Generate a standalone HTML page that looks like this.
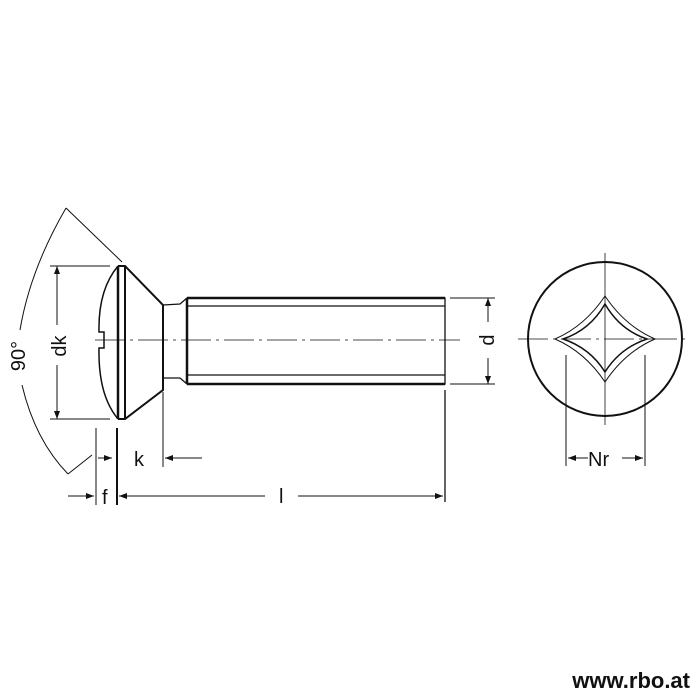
<!DOCTYPE html>
<html><head><style>body{margin:0;background:#fff}svg{display:block}</style></head><body>
<svg width="700" height="700" viewBox="0 0 700 700" xmlns="http://www.w3.org/2000/svg" font-family="Liberation Sans, sans-serif">
<g fill="none" stroke="#111" stroke-width="1.3">
<!-- head -->
<path d="M118,266 L125,266 L163,305 L163,390 L125,419 L118,419" stroke-width="2"/>
<line x1="118" y1="266" x2="118" y2="419" stroke-width="2.5"/>
<line x1="125" y1="266" x2="125" y2="419" stroke-width="2"/>
<path d="M118,266 Q98,290 99,332 L104,332 L104,348 L99,348 Q98,395 118,419" stroke-width="1.5"/>
<!-- neck and shank -->
<path d="M163,305 L180,304 L187,298 L445,298 L445,384 L187,384 L180,378 L163,378"/>
<line x1="187" y1="298" x2="187" y2="384" stroke-width="2.5"/>
<line x1="187" y1="306" x2="445" y2="306"/>
<line x1="187" y1="375" x2="445" y2="375"/>
<line x1="187" y1="298" x2="445" y2="298" stroke-width="2.5"/>
<line x1="187" y1="384" x2="445" y2="384" stroke-width="2.5"/>
<!-- centerline -->
<line x1="95" y1="340" x2="460" y2="340" stroke-width="0.8" stroke-dasharray="30,5,3,5"/>
<!-- dk -->
<line x1="50" y1="266" x2="110" y2="266" stroke-width="1"/>
<line x1="50" y1="419" x2="110" y2="419" stroke-width="1"/>
<line x1="57" y1="266" x2="57" y2="325" stroke-width="1"/>
<line x1="57" y1="365" x2="57" y2="419" stroke-width="1"/>
<!-- 90 arc -->
<path d="M66,208 Q30,270 20,330" stroke-width="1"/>
<path d="M22,385 Q35,440 68,474" stroke-width="1"/>
<line x1="66" y1="208" x2="122" y2="262" stroke-width="1"/>
<line x1="68" y1="474" x2="92" y2="455" stroke-width="1"/>
<!-- f, k -->
<line x1="96" y1="428" x2="96" y2="505" stroke-width="1"/>
<line x1="117" y1="428" x2="117" y2="505" stroke-width="2"/>
<line x1="163" y1="392" x2="163" y2="467" stroke-width="1"/>
<line x1="98" y1="458" x2="112" y2="458" stroke-width="1"/>
<line x1="165" y1="458" x2="202" y2="458" stroke-width="1"/>
<line x1="68" y1="496" x2="94" y2="496" stroke-width="1"/>
<line x1="119" y1="496" x2="265" y2="496" stroke-width="1"/>
<line x1="298" y1="496" x2="443" y2="496" stroke-width="1"/>
<line x1="445" y1="390" x2="445" y2="502" stroke-width="1.3"/>
<!-- d -->
<line x1="450" y1="298" x2="495" y2="298" stroke-width="1"/>
<line x1="450" y1="384" x2="495" y2="384" stroke-width="1"/>
<line x1="488" y1="298" x2="488" y2="322" stroke-width="1"/>
<line x1="488" y1="358" x2="488" y2="384" stroke-width="1"/>
<!-- circle view -->
<circle cx="605" cy="339" r="77" stroke-width="2"/>
<line x1="605" y1="253" x2="605" y2="425" stroke-width="0.8"/>
<line x1="518" y1="339" x2="690" y2="339" stroke-width="0.8" stroke-dasharray="30,5,3,5"/>
<path d="M605,304 Q590,330 563,339 Q590,348 605,372 Q620,348 647,339 Q620,330 605,304Z" stroke-width="1.5"/>
<path d="M605,296 Q585,326 555,339 Q585,352 605,382 Q625,352 655,339 Q625,326 605,296Z" stroke-width="1"/>
<line x1="566" y1="355" x2="566" y2="466" stroke-width="1"/>
<line x1="645" y1="355" x2="645" y2="466" stroke-width="1"/>
<line x1="568" y1="458" x2="588" y2="458" stroke-width="1"/>
<line x1="622" y1="458" x2="643" y2="458" stroke-width="1"/>
</g>
<g fill="#111">
<polygon points="112,458 104,455 104,461"/><polygon points="165,458 173,455 173,461"/>
<polygon points="94,496 86,493 86,499"/><polygon points="119,496 127,493 127,499"/>
<polygon points="443,496 435,493 435,499"/>
<polygon points="57,266 54,274 60,274"/><polygon points="57,419 54,411 60,411"/>
<polygon points="488,298 485,306 491,306"/><polygon points="488,384 485,376 491,376"/>
<polygon points="568,458 576,455 576,461"/><polygon points="643,458 635,455 635,461"/>
</g>
<g font-size="20" fill="#111">
<text x="134" y="466">k</text>
<text x="102" y="504">f</text>
<text x="279" y="503">l</text>
<text x="588" y="466">Nr</text>
<text transform="translate(66,346) rotate(-90)" text-anchor="middle">dk</text>
<text transform="translate(494,340) rotate(-90)" text-anchor="middle">d</text>
<text transform="translate(25,356) rotate(-90)" text-anchor="middle">90°</text>
</g>
<text x="690" y="688" text-anchor="end" font-size="22" font-weight="bold" fill="#111">www.rbo.at</text>
</svg>
</body></html>
